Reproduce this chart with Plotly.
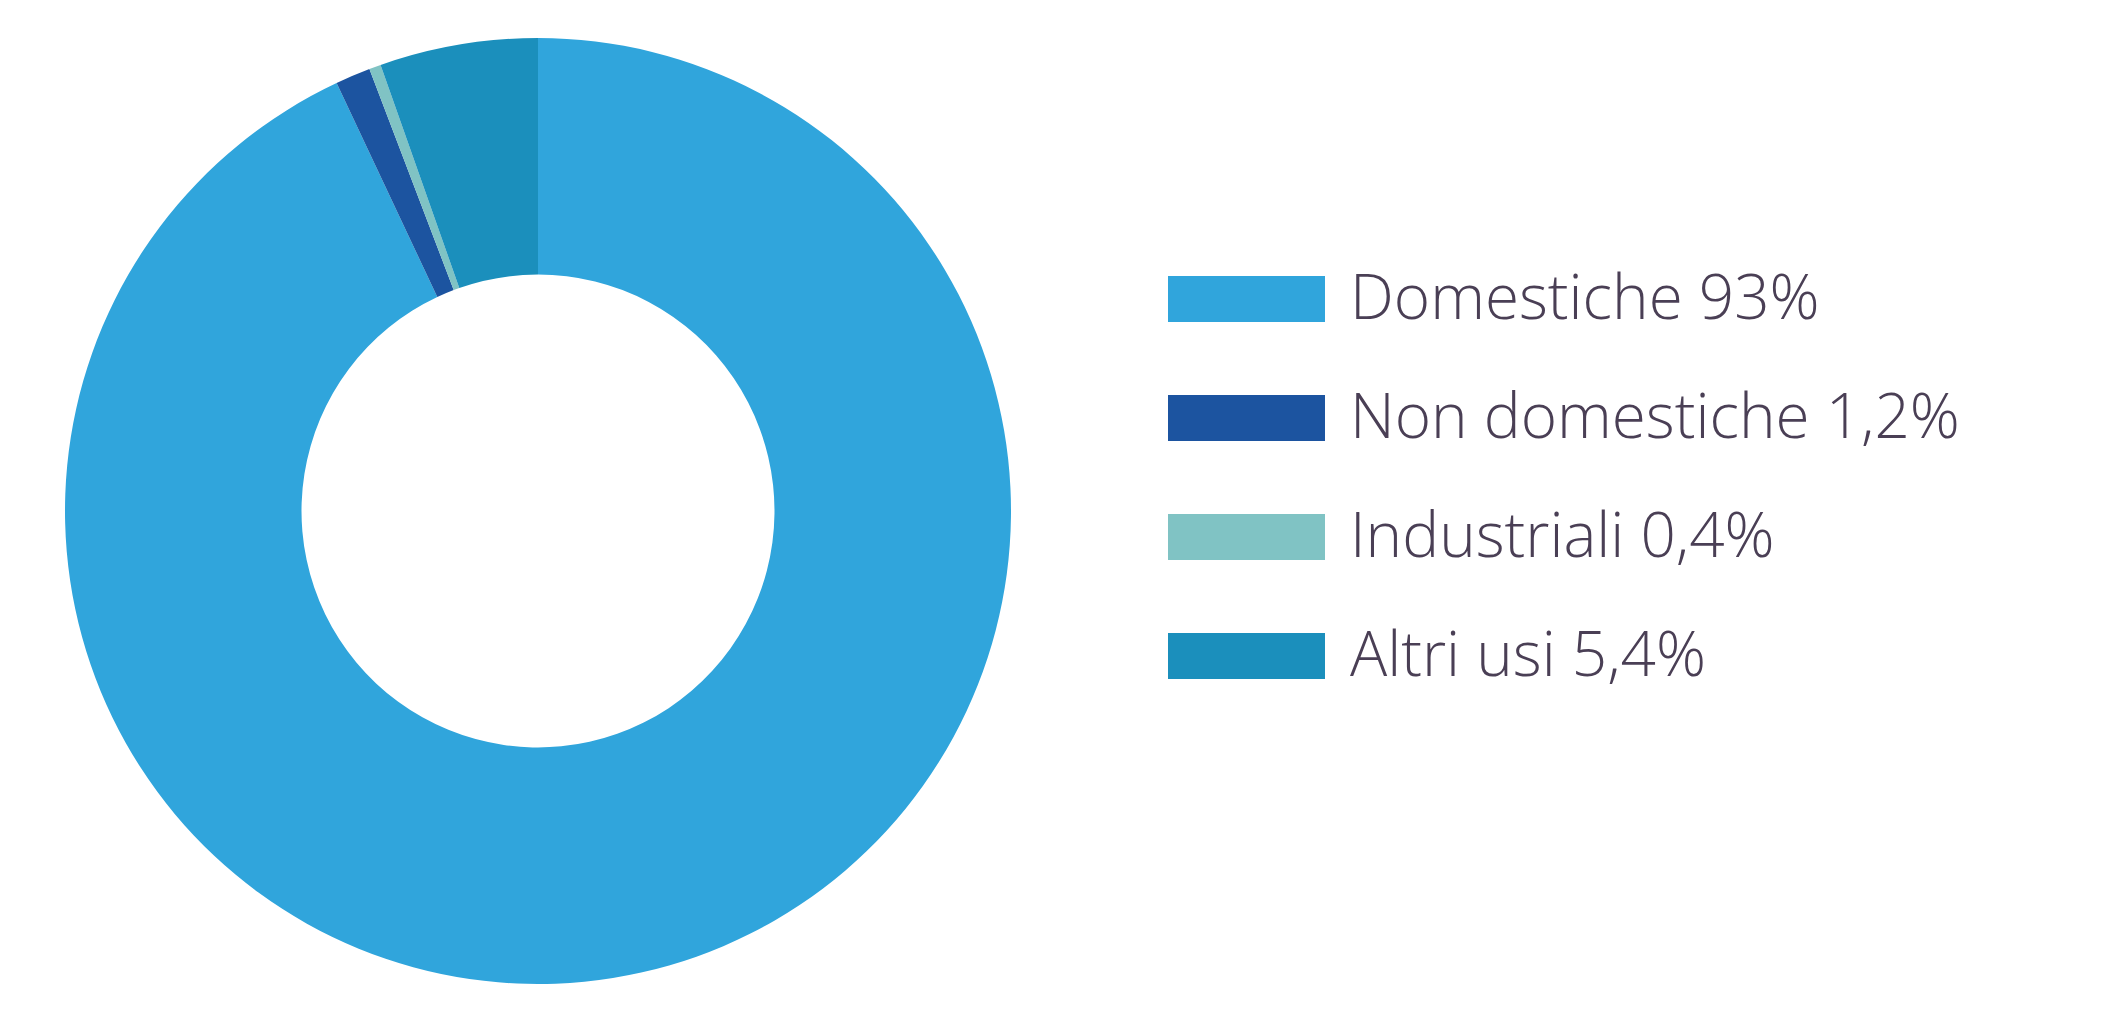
import plotly.graph_objects as go

labels = ["Domestiche", "Non domestiche", "Industriali", "Altri usi"]
values = [93, 1.2, 0.4, 5.4]
value_labels = ["93%", "1,2%", "0,4%", "5,4%"]
colors = ["#30a5dc", "#1c54a0", "#80c3c4", "#1b8fbc"]

W, H = 2109, 1025
fig = go.Figure(go.Pie(
    labels=labels, values=values, hole=0.5, sort=False, direction="clockwise",
    rotation=0, marker=dict(colors=colors, line=dict(width=0)),
    textinfo="none", showlegend=False,
    domain=dict(x=[57 / W, 1003 / W], y=[1 - 976 / H, 1 - 30 / H]),
))

shapes, annots = [], []
row_y = [291, 410, 529, 648]
for i, lab in enumerate(labels):
    yc = 1 - row_y[i] / H
    shapes.append(dict(type="rect", xref="paper", yref="paper",
                       x0=1160 / W, x1=1317 / W, y0=yc - 23 / H, y1=yc + 23 / H,
                       fillcolor=colors[i], line=dict(width=0)))
    annots.append(dict(xref="paper", yref="paper", x=1340 / W, y=yc + 4 / H,
                       xanchor="left", yanchor="middle", showarrow=False,
                       text=f"{lab} {value_labels[i]}",
                       font=dict(family="Open Sans", size=62, color="#4a3f55", weight=300)))

fig.update_layout(width=W, height=H, margin=dict(l=0, r=0, t=0, b=0),
                  paper_bgcolor="white", plot_bgcolor="white",
                  shapes=shapes, annotations=annots)
fig.write_html("out.html")
